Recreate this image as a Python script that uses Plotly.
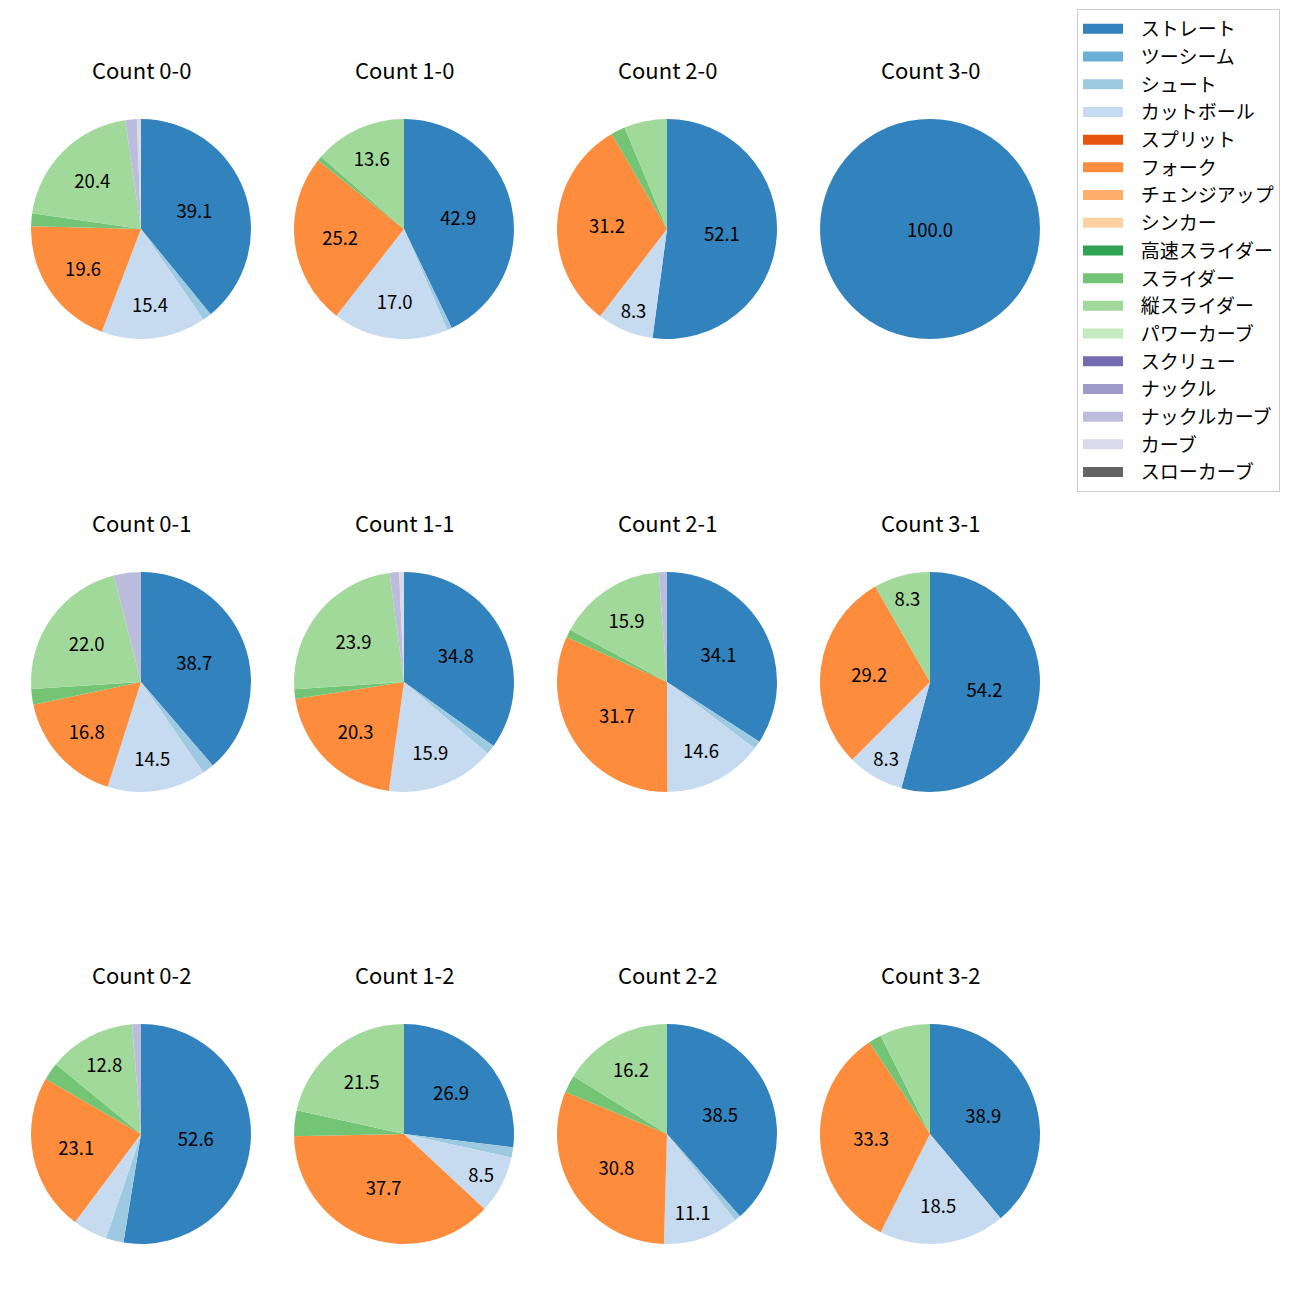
import plotly.graph_objects as go

pitch_types = ["ストレート", "ツーシーム", "シュート", "カットボール", "スプリット", "フォーク",
               "チェンジアップ", "シンカー", "高速スライダー", "スライダー", "縦スライダー",
               "パワーカーブ", "スクリュー", "ナックル", "ナックルカーブ", "カーブ", "スローカーブ"]
pitch_colors = ["#3182bd", "#6baed6", "#9ecae1", "#c6dbef", "#e6550d", "#fd8d3c",
                "#fdae6b", "#fdd0a2", "#31a354", "#74c476", "#a1d99b", "#c7e9c0",
                "#756bb1", "#9e9ac8", "#bcbddc", "#dadaeb", "#636363"]

count_titles = ["Count 0-0", "Count 1-0", "Count 2-0", "Count 3-0",
                "Count 0-1", "Count 1-1", "Count 2-1", "Count 3-1",
                "Count 0-2", "Count 1-2", "Count 2-2", "Count 3-2"]

# percentages, order of pitch_types
count_0_0 = [39.1, 0, 1.3, 15.4, 0, 19.6, 0, 0, 0, 1.9, 20.4, 0, 0, 0, 1.7, 0.6, 0]
count_1_0 = [42.9, 0, 0.7, 17.0, 0, 25.2, 0, 0, 0, 0.7, 13.6, 0, 0, 0, 0, 0, 0]
count_2_0 = [52.1, 0, 0, 8.3, 0, 31.2, 0, 0, 0, 2.1, 6.3, 0, 0, 0, 0, 0, 0]
count_3_0 = [100.0, 0, 0, 0, 0, 0, 0, 0, 0, 0, 0, 0, 0, 0, 0, 0, 0]
count_0_1 = [38.7, 0, 1.7, 14.5, 0, 16.8, 0, 0, 0, 2.3, 22.0, 0, 0, 0, 4.0, 0, 0]
count_1_1 = [34.8, 0, 1.4, 15.9, 0, 20.3, 0, 0, 0, 1.4, 23.9, 0, 0, 0, 1.4, 0.7, 0]
count_2_1 = [34.1, 0, 1.2, 14.6, 0, 31.7, 0, 0, 0, 1.2, 15.9, 0, 0, 0, 1.2, 0, 0]
count_3_1 = [54.2, 0, 0, 8.3, 0, 29.2, 0, 0, 0, 0, 8.3, 0, 0, 0, 0, 0, 0]
count_0_2 = [52.6, 0, 2.6, 5.1, 0, 23.1, 0, 0, 0, 2.6, 12.8, 0, 0, 0, 1.3, 0, 0]
count_1_2 = [26.9, 0, 1.5, 8.5, 0, 37.7, 0, 0, 0, 3.8, 21.5, 0, 0, 0, 0, 0, 0]
count_2_2 = [38.5, 0, 0.9, 11.1, 0, 30.8, 0, 0, 0, 2.6, 16.2, 0, 0, 0, 0, 0, 0]
count_3_2 = [38.9, 0, 0, 18.5, 0, 33.3, 0, 0, 0, 1.9, 7.4, 0, 0, 0, 0, 0, 0]

all_counts = [count_0_0, count_1_0, count_2_0, count_3_0,
              count_0_1, count_1_1, count_2_1, count_3_1,
              count_0_2, count_1_2, count_2_2, count_3_2]

W = H = 1300
OFF = 8  # page body margin
col_cx = [141, 404, 667, 930]
row_cy = [229, 682, 1134]
R = 110
title_dy = 160
FONT = "Noto Sans CJK JP"

fig = go.Figure()
annotations = []
for i, (title, vals) in enumerate(zip(count_titles, all_counts)):
    r, c = divmod(i, 4)
    cx, cy = col_cx[c] - OFF, row_cy[r] - OFF
    texts = [f"{v:.1f}" if v >= 8 else "" for v in vals]
    fig.add_trace(go.Pie(
        labels=pitch_types, values=vals, text=texts, textinfo="text",
        textposition="inside", insidetextorientation="horizontal",
        textfont=dict(size=18.5, color="black", family=FONT),
        marker=dict(colors=pitch_colors, line=dict(width=0)),
        sort=False, direction="clockwise", rotation=0,
        showlegend=False, hoverinfo="label+percent",
        domain=dict(x=[(cx - R) / W, (cx + R) / W],
                    y=[1 - (cy + R) / H, 1 - (cy - R) / H]),
    ))
    annotations.append(dict(text=title, x=cx / W, y=1 - (cy - title_dy) / H,
                            xref="paper", yref="paper", showarrow=False,
                            xanchor="center", yanchor="middle",
                            font=dict(size=22, color="black", family=FONT)))

for name, col in zip(pitch_types, pitch_colors):
    fig.add_trace(go.Scatter(x=[None], y=[None], mode="lines",
                             name="\u00a0\u00a0\u00a0" + name,
                             line=dict(color=col, width=13),
                             showlegend=True, hoverinfo="skip"))

fig.update_layout(
    width=W, height=H, margin=dict(l=0, r=0, t=0, b=0),
    paper_bgcolor="white", plot_bgcolor="white",
    xaxis=dict(visible=False), yaxis=dict(visible=False),
    annotations=annotations,
    uniformtext=dict(minsize=18.5, mode="show"),
    legend=dict(x=(1077 - OFF) / W, y=1 - (9 - OFF) / H, xanchor="left", yanchor="top",
                bordercolor="#cccccc", borderwidth=1, bgcolor="white",
                font=dict(size=19, color="black", family=FONT),
                itemwidth=40, traceorder="normal"),
    font=dict(family=FONT),
)

fig.write_html("out.html")
